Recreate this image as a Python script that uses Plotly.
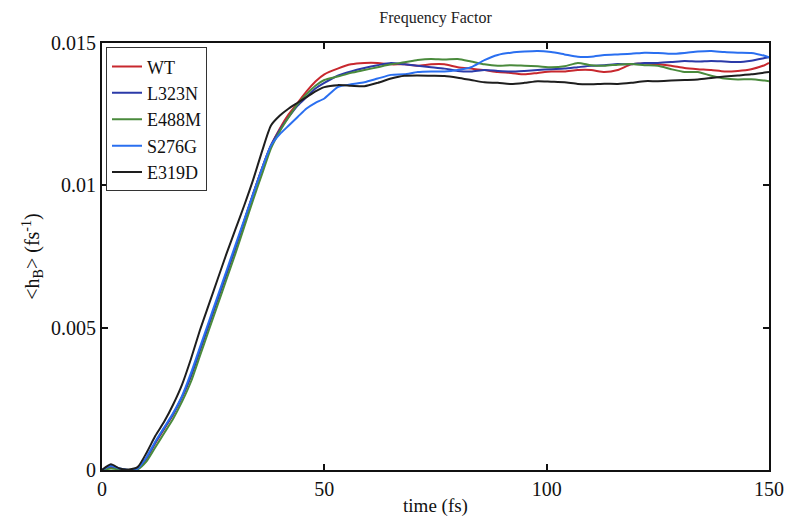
import plotly.graph_objects as go

# time axis (fs)
time_fs = [0, 2, 4, 6, 8, 10, 12, 14, 16, 18, 20, 22, 24, 26, 28, 30, 32, 34, 36, 38, 40, 42, 44, 46, 48, 50,
           53, 56, 59, 62, 65, 68, 71, 74, 77, 80, 83, 86, 89, 92, 95, 98, 101, 104, 107, 110, 113, 116, 119,
           122, 125, 128, 131, 134, 137, 140, 143, 146, 149, 150]

# values in units of 1e-3 fs^-1
wt = [0, 0.1, 0.03, 0, 0.05, 0.4, 0.95, 1.45, 1.95, 2.55, 3.3, 4.2, 5.1, 6.0, 6.9, 7.8, 8.75, 9.7, 10.6, 11.4,
      12.0, 12.5, 12.9, 13.3, 13.65, 13.9,
      14.1, 14.25, 14.3, 14.3, 14.25, 14.25, 14.2, 14.25, 14.25, 14.15, 14.1, 14.05, 13.98, 13.95, 13.9, 13.95,
      14.0, 14.0, 14.05, 14.05, 13.98, 14.05, 14.25, 14.28, 14.25, 14.2, 14.12, 14.08, 14.05, 14.0, 14.02, 14.08,
      14.22, 14.3]
l323n = [0, 0.12, 0.04, 0, 0.05, 0.42, 0.97, 1.47, 1.97, 2.57, 3.3, 4.2, 5.1, 6.0, 6.9, 7.8, 8.75, 9.7, 10.6, 11.4,
         11.95, 12.4, 12.8, 13.1, 13.4, 13.6,
         13.85, 14.0, 14.12, 14.22, 14.3, 14.25, 14.2, 14.15, 14.1, 14.02, 14.0, 14.05, 14.02, 14.0, 14.02, 14.05,
         14.08, 14.1, 14.15, 14.2, 14.22, 14.26, 14.25, 14.3, 14.3, 14.33, 14.37, 14.35, 14.37, 14.35, 14.33, 14.38,
         14.47, 14.5]
e488m = [0, 0.05, 0.02, 0, 0.02, 0.3, 0.8, 1.3, 1.8, 2.4, 3.1, 4.0, 4.9, 5.8, 6.7, 7.6, 8.55, 9.5, 10.4, 11.3,
         11.9, 12.4, 12.85, 13.2, 13.5, 13.7,
         13.82, 13.95, 14.05, 14.15, 14.25, 14.32, 14.4, 14.44, 14.42, 14.44, 14.35, 14.25, 14.2, 14.22, 14.2, 14.18,
         14.15, 14.18, 14.3, 14.22, 14.2, 14.24, 14.26, 14.22, 14.2, 14.08, 13.98, 13.98, 13.85, 13.75, 13.72, 13.73,
         13.68, 13.66]
s276g = [0, 0.15, 0.05, 0, 0.05, 0.45, 1.0, 1.5, 2.0, 2.6, 3.4, 4.3, 5.2, 6.1, 7.0, 7.9, 8.8, 9.7, 10.6, 11.4,
         11.8, 12.1, 12.4, 12.7, 12.9, 13.05,
         13.45, 13.55, 13.62, 13.75, 13.88, 13.9, 13.98, 14.0, 14.0, 14.05, 14.15, 14.4, 14.58, 14.66, 14.7, 14.72,
         14.68, 14.6, 14.52, 14.52, 14.58, 14.6, 14.62, 14.66, 14.65, 14.62, 14.65, 14.7, 14.72, 14.68, 14.66, 14.65,
         14.55, 14.5]
e319d = [0, 0.2, 0.05, 0.02, 0.1, 0.6, 1.2, 1.7, 2.3, 3.0, 3.9, 4.9, 5.8, 6.7, 7.6, 8.45, 9.3, 10.2, 11.2, 12.1,
         12.45, 12.7, 12.9, 13.1, 13.3, 13.45,
         13.52, 13.5, 13.48, 13.6, 13.75, 13.85, 13.86, 13.85, 13.84, 13.78, 13.7, 13.62, 13.6, 13.56, 13.6, 13.66,
         13.64, 13.62, 13.56, 13.55, 13.57, 13.56, 13.6, 13.66, 13.66, 13.68, 13.7, 13.72, 13.77, 13.82, 13.86, 13.9,
         13.96, 13.98]

series_names = ["WT", "L323N", "E488M", "S276G", "E319D"]
series_values = [wt, l323n, e488m, s276g, e319d]
series_colors = ["#c8282e", "#2b3aa8", "#4a8a3c", "#2a6ff0", "#1e1e1e"]

x_ticks = [0, 50, 100, 150]
y_ticks = [0, 0.005, 0.01, 0.015]
y_tick_labels = ["0", "0.005", "0.01", "0.015"]

font_family = "Liberation Serif, Times New Roman, serif"

fig = go.Figure()
for name, vals, col in zip(series_names, series_values, series_colors):
    fig.add_trace(go.Scatter(
        x=time_fs, y=[v * 1e-3 for v in vals], mode="lines", name=name,
        line=dict(color=col, width=2, shape="spline", smoothing=0.6),
    ))

axis_common = dict(
    showline=True, linecolor="#111111", linewidth=2, mirror="ticks",
    ticks="inside", ticklen=6, tickwidth=1.5, tickcolor="#111111",
    showgrid=False, zeroline=False, automargin=False,
    tickfont=dict(family=font_family, size=20, color="#111111"),
)

fig.update_layout(
    width=788, height=517,
    margin=dict(l=102, r=19, t=43, b=47),
    paper_bgcolor="white", plot_bgcolor="white",
    font=dict(family=font_family, color="#111111"),
    title=dict(text="Frequency Factor", x=0.5, xref="paper", xanchor="center",
               y=1, yref="container", yanchor="top", pad=dict(t=12),
               font=dict(family=font_family, size=16, color="#222222")),
    xaxis=dict(range=[0, 150], tickvals=x_ticks, ticktext=[str(v) for v in x_ticks],
               title=dict(text="time (fs)", standoff=0, font=dict(family=font_family, size=19)),
               **axis_common),
    yaxis=dict(range=[0, 0.015], tickvals=y_ticks, ticktext=y_tick_labels,
               title=dict(text="&lt;h<sub>B</sub>&gt; (fs<sup>-1</sup>)", standoff=6,
                          font=dict(family=font_family, size=20)),
               **axis_common),
    legend=dict(x=0.006, y=0.99, xanchor="left", yanchor="top",
                bgcolor="white", bordercolor="#333333", borderwidth=1,
                font=dict(family=font_family, size=18, color="#111111"),
                tracegroupgap=0, itemwidth=30),
    showlegend=True,
)

fig.write_html("out.html")
